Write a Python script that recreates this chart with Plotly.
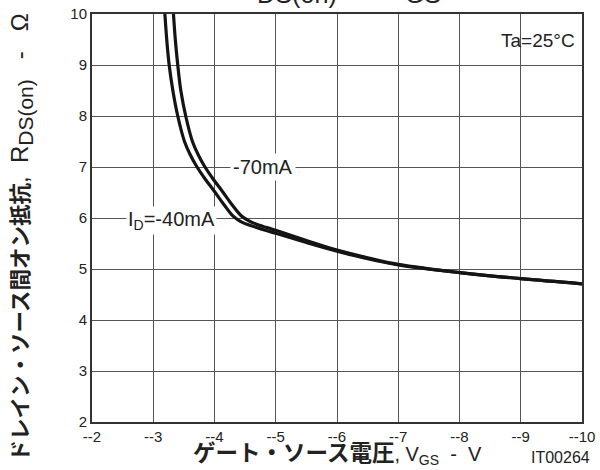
import plotly.graph_objects as go

# Data (VGS in V, RDS(on) in ohm)
vgs_40 = [-3.19, -3.22, -3.26, -3.32, -3.40, -3.51, -3.60, -3.70, -3.85, -4.00, -4.15, -4.30,
          -4.40, -4.50, -4.65, -4.80, -5.00, -5.50, -6.00, -6.50, -7.00, -8.00, -9.00, -10.00]
rds_40 = [10.0, 9.5, 9.0, 8.5, 8.0, 7.5, 7.25, 7.03, 6.76, 6.52, 6.27, 6.04,
          5.95, 5.89, 5.83, 5.77, 5.70, 5.52, 5.35, 5.20, 5.08, 4.93, 4.81, 4.71]
vgs_70 = [-3.33, -3.36, -3.40, -3.45, -3.53, -3.64, -3.73, -3.83, -3.98, -4.13, -4.28, -4.44,
          -4.54, -4.64, -4.78, -4.92, -5.00, -5.50, -6.00, -6.50, -7.00, -8.00, -9.00, -10.00]
rds_70 = [10.0, 9.5, 9.0, 8.5, 8.0, 7.5, 7.25, 7.03, 6.76, 6.52, 6.27, 6.04,
          5.96, 5.90, 5.84, 5.79, 5.76, 5.56, 5.37, 5.22, 5.09, 4.93, 4.81, 4.71]

x_ticks = [-2, -3, -4, -5, -6, -7, -8, -9, -10]
x_ticktext = ["--2", "--3", "--4", "--5", "--6", "--7", "--8", "--9", "--10"]
y_ticks = [2, 3, 4, 5, 6, 7, 8, 9, 10]
y_ticktext = ["2", "3", "4", "5", "6", "7", "8", "9", "10"]

FONT = "Liberation Sans, Arial, Noto Sans CJK JP"
INK = "#222"

fig = go.Figure()
for xs, ys in [(vgs_40, rds_40), (vgs_70, rds_70)]:
    fig.add_trace(go.Scatter(x=xs, y=ys, mode="lines",
                             line=dict(color="#141414", width=3.2, shape="spline", smoothing=1.0),
                             showlegend=False, hoverinfo="skip"))

fig.update_layout(
    width=600, height=470,
    margin=dict(l=92, r=18, t=14, b=48),
    paper_bgcolor="white", plot_bgcolor="white",
    font=dict(family=FONT, color=INK, size=15),
    showlegend=False,
)
axis_style = dict(showgrid=True, gridcolor="#555", gridwidth=1,
                  showline=True, mirror=True, linecolor="#333", linewidth=2,
                  ticks="", zeroline=False, automargin=False,
                  tickfont=dict(size=15, color=INK))
fig.update_xaxes(range=[-2, -10], tickvals=x_ticks, ticktext=x_ticktext, **axis_style)
fig.update_yaxes(range=[2, 10], tickvals=y_ticks, ticktext=y_ticktext, **axis_style)

ann = []
ann.append(dict(text="Ta=25°C", xref="paper", yref="paper", x=0.9898, y=0.936,
                xanchor="right", yanchor="middle", showarrow=False,
                font=dict(size=19, color=INK)))
ann.append(dict(text="-70mA", xref="x", yref="y", x=-4.25, y=7.0,
                xanchor="left", yanchor="middle", showarrow=False,
                bgcolor="white", borderpad=2, font=dict(size=20, color=INK)))
ann.append(dict(text="I<sub>D</sub>=-40mA", xref="x", yref="y", x=-2.56, y=5.95,
                xanchor="left", yanchor="middle", showarrow=False,
                bgcolor="white", borderpad=1, font=dict(size=20, color=INK)))
ann.append(dict(text="R<sub>DS(on)</sub> -- V<sub>GS</sub>", xref="paper", yref="paper",
                x=0.498, y=1.07, xanchor="center", yanchor="middle", showarrow=False,
                font=dict(size=36, color=INK)))
ann.append(dict(text="<b><span style='font-size:21.5px'>ドレイン・ソース間オン抵抗</span></b>,  "
                     "R<sub><span style='font-size:21px'>DS(on)</span></sub>   -   Ω",
                xref="paper", yref="paper", x=-0.143, y=0.452, textangle=-90,
                xanchor="center", yanchor="middle", showarrow=False,
                font=dict(size=24, color=INK)))
ann.append(dict(text="<b><span style='font-size:22.5px'>ゲート・ソース電圧</span></b>, V<sub>GS</sub>  -  V",
                xref="paper", yref="paper", x=0.5, y=-0.079,
                xanchor="center", yanchor="middle", showarrow=False,
                font=dict(size=20, color=INK)))
ann.append(dict(text="IT00264", xref="paper", yref="paper", x=0.957, y=-0.088,
                xanchor="center", yanchor="middle", showarrow=False,
                font=dict(size=16, color=INK)))
fig.update_layout(annotations=ann)

fig.write_html("out.html", config={"displayModeBar": False},
               post_script="document.body.style.margin='0';document.body.style.padding='0';")
